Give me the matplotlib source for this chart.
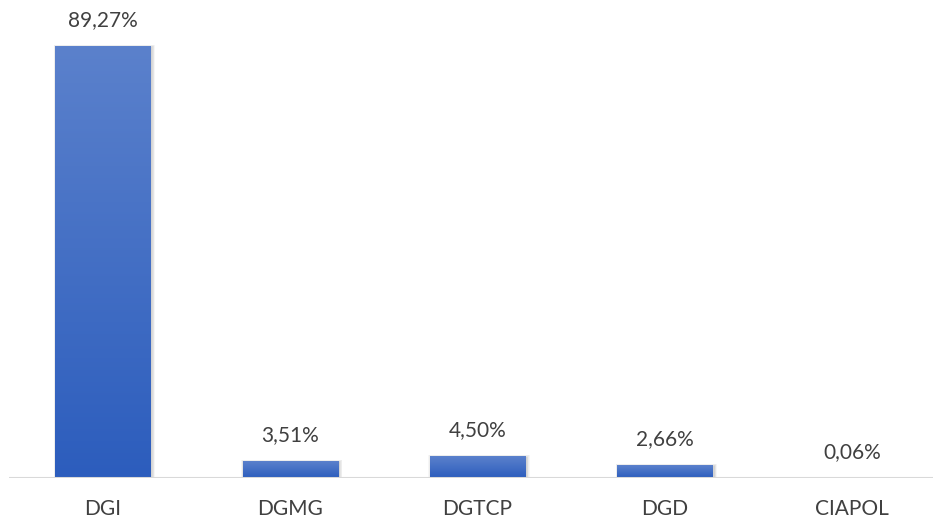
import numpy as np
import matplotlib.pyplot as plt
from matplotlib.colors import LinearSegmentedColormap
from matplotlib.patches import Rectangle

categories = ["DGI", "DGMG", "DGTCP", "DGD", "CIAPOL"]
values = [89.27, 3.51, 4.50, 2.66, 0.06]
labels = ["89,27%", "3,51%", "4,50%", "2,66%", "0,06%"]

plt.rcParams['font.family'] = ['Lato', 'DejaVu Sans']

W, H = 933, 522
fig = plt.figure(figsize=(W / 100, H / 100), dpi=100)
# axes: left edge at x=9px, one category = 187.4px, baseline at y=478px
ax = fig.add_axes([9 / W, (H - 478) / H, 937 / W, 478 / H])
ax.set_xlim(-0.5, 4.5)
ax.set_ylim(0, 478 / (432 / 89.27))

cmap = LinearSegmentedColormap.from_list("bar", ["#2c5dbd", "#5b81cc"])
grad = np.linspace(0, 1, 256).reshape(-1, 1)
bw = 0.507
px_x = 1 / 187.4  # data units per pixel (x)
px_y = 89.27 / 432  # data units per pixel (y)

for i, (v, lab) in enumerate(zip(values, labels)):
    x0 = i - bw / 2
    if v > 0.2:
        # soft shadow
        for k in range(1, 6):
            ax.add_patch(Rectangle((x0 - k * px_x * 0.6 + 1.5 * px_x, -k * px_y * 0.6 - 1.5 * px_y),
                                   bw + 2 * k * px_x * 0.6, v + 2 * k * px_y * 0.6,
                                   color="black", alpha=0.035, lw=0, zorder=1))
        ax.imshow(grad, cmap=cmap, origin="lower", aspect="auto",
                  extent=(x0, x0 + bw, 0, v), zorder=2, interpolation="bilinear")
    ax.text(i, v + 26 * px_y, lab, ha="center", va="center",
            fontsize=15, color="#404040")

ax.axhline(0, color="#d9d9d9", lw=2.2, zorder=3)
ax.set_xlim(-0.5, 4.5)
ax.set_ylim(0, 478 / (432 / 89.27))
ax.set_xticks(range(len(categories)))
ax.set_xticklabels(categories, fontsize=15, color="#404040")
ax.tick_params(axis="x", length=0, pad=15)
ax.set_yticks([])
for s in ax.spines.values():
    s.set_visible(False)
ax.patch.set_alpha(0)

fig.savefig("out.png", dpi=100)
